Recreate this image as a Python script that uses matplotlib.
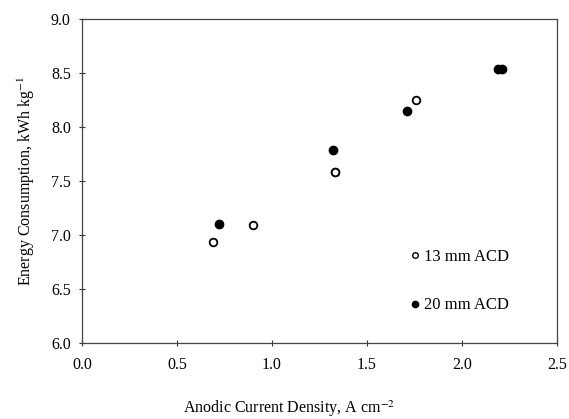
import matplotlib
matplotlib.use("Agg")
import matplotlib.pyplot as plt
from matplotlib.lines import Line2D

plt.rcParams['font.family'] = ['Liberation Serif', 'DejaVu Serif']
plt.rcParams['mathtext.fontset'] = 'stix'

# 13 mm ACD (open circles)
x13 = [0.69, 0.90, 1.33, 1.33, 1.76]
y13 = [6.94, 7.09, 7.58, 7.585, 8.25]
# 20 mm ACD (filled circles)
x20 = [0.72, 1.32, 1.71, 2.19, 2.21]
y20 = [7.10, 7.79, 8.15, 8.54, 8.54]

xticks = [0.0, 0.5, 1.0, 1.5, 2.0, 2.5]
yticks = [6.0, 6.5, 7.0, 7.5, 8.0, 8.5, 9.0]

fig = plt.figure(figsize=(5.69, 4.19), dpi=100)
ax = fig.add_axes([0.144, 0.181, 0.835, 0.774])

ax.plot(x13, y13, 'o', ms=5.5, mfc='white', mec='black', mew=1.3, ls='none')
ax.plot(x20, y20, 'o', ms=6, mfc='black', mec='black', ls='none')

ax.set_xlim(0, 2.5)
ax.set_ylim(6.0, 9.0)
ax.set_xticks(xticks)
ax.set_yticks(yticks)
ax.set_xticklabels([f"{v:.1f}" for v in xticks])
ax.set_yticklabels([f"{v:.1f}" for v in yticks])
ax.tick_params(axis='both', labelsize=11.5, direction='inout', length=4, width=0.8, color='#333333')
ax.tick_params(axis='x', pad=8)
ax.tick_params(axis='y', pad=6)
for s in ax.spines.values():
    s.set_color('#444444')
    s.set_linewidth(0.9)

ax.set_xlabel("Anodic Current Density, A cm$^{-2}$", fontsize=11.5)
ax.xaxis.set_label_coords(0.436, -0.17)
ax.set_ylabel("Energy Consumption, kWh kg$^{-1}$", fontsize=11.5, labelpad=10)

handles = [
    Line2D([], [], marker='o', ls='none', ms=4, mfc='white', mec='black', mew=1.0),
    Line2D([], [], marker='o', ls='none', ms=4.5, mfc='black', mec='black'),
]
leg = ax.legend(handles, ["13 mm ACD", "20 mm ACD"], loc='center left',
                bbox_to_anchor=(0.674, 0.191), frameon=False, fontsize=12,
                borderaxespad=0, labelspacing=1.95, handletextpad=0.1, handlelength=0.8)

fig.savefig("out.png", dpi=100)
